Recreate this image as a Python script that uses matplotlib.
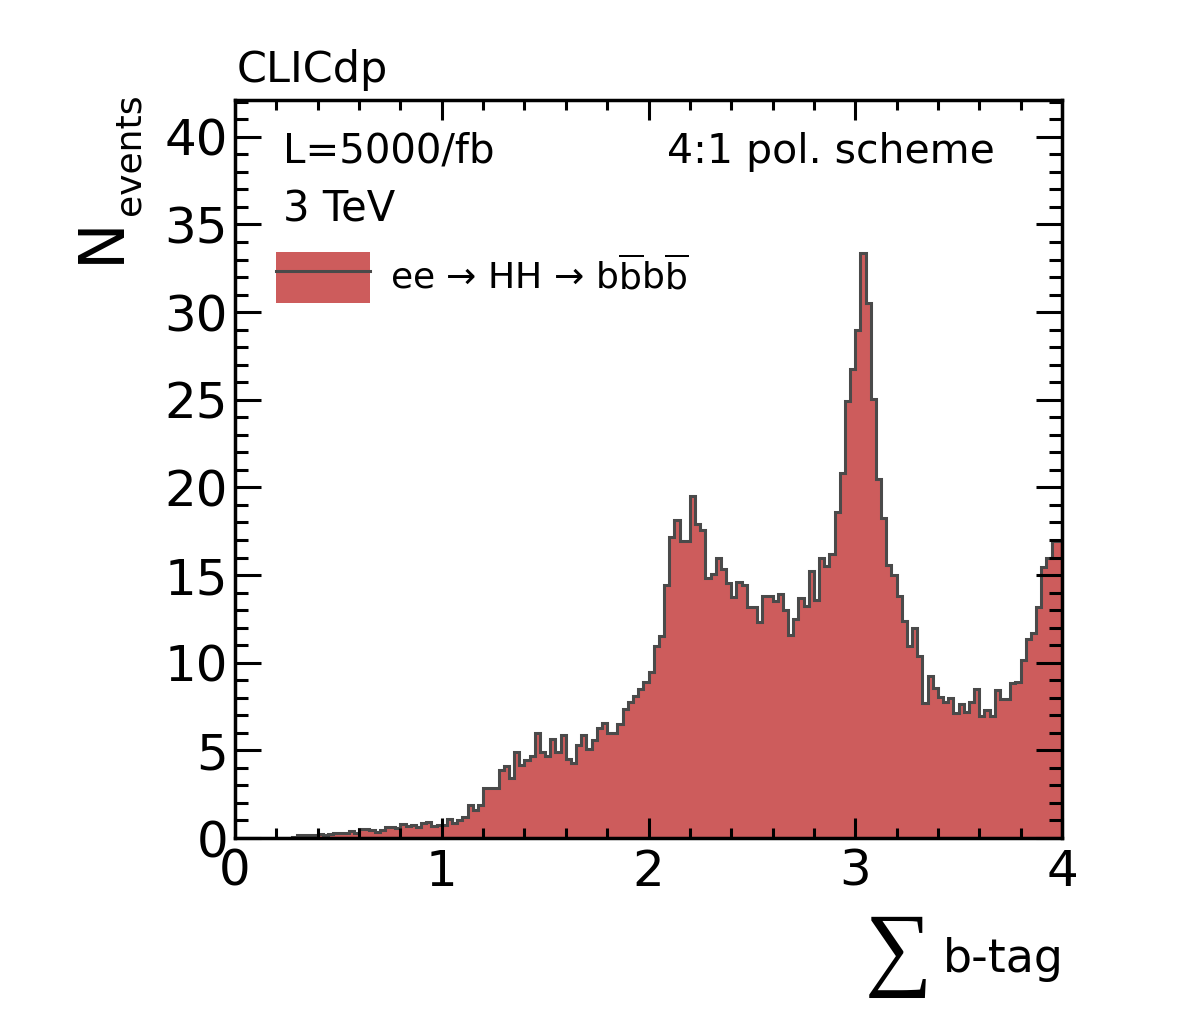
import numpy as np
import matplotlib
matplotlib.use("Agg")
import matplotlib.pyplot as plt
from matplotlib.patches import Patch
from matplotlib.lines import Line2D
from matplotlib.ticker import MultipleLocator

# histogram of the summed b-tag, 160 bins between 0 and 4
x_min = 0.0
x_max = 4.0
counts = [
    0, 0, 0, 0, 0, 0, 0, 0, 0, 0,
    0, 0.08, 0.15, 0.17, 0.15, 0.15, 0.2, 0.17, 0.2, 0.3,
    0.3, 0.28, 0.4, 0.3, 0.5, 0.5, 0.45, 0.35, 0.45, 0.6,
    0.6, 0.55, 0.8, 0.7, 0.75, 0.6, 0.85, 0.9, 0.7, 0.75,
    0.75, 1.07, 0.87, 1.0, 1.2, 1.88, 1.6, 1.88, 2.83, 2.83,
    2.83, 3.88, 4.1, 3.4, 4.9, 4.16, 4.45, 4.68, 6.0, 4.9,
    4.65, 5.65, 4.9, 5.9, 4.5, 4.26, 5.3, 5.88, 5.06, 5.6,
    6.26, 6.58, 6.0, 6.0, 6.5, 7.34, 7.78, 8.1, 8.48, 8.92,
    9.49, 10.95, 11.52, 14.43, 17.15, 18.14, 16.96, 16.96, 19.5, 17.9,
    17.57, 14.81, 15.06, 16.0, 15.33, 14.57, 13.77, 14.62, 14.43, 13.16,
    13.16, 12.3, 13.8, 13.8, 13.5, 13.9, 13.0, 11.6, 12.5, 13.7,
    13.25, 15.25, 13.6, 15.95, 15.5, 16.2, 18.6, 20.85, 24.95, 26.74,
    28.98, 33.39, 30.53, 25.02, 20.46, 18.27, 15.57, 15.0, 13.8, 12.4,
    10.95, 12.0, 10.38, 7.72, 9.24, 8.54, 8.06, 7.78, 7.97, 7.11,
    7.64, 7.2, 7.78, 8.48, 6.96, 7.3, 6.96, 8.44, 7.91, 7.91,
    8.82, 8.92, 10.15, 11.33, 11.68, 13.16, 15.48, 16.0, 16.96, 16.96,
]
x_ticks = [0, 1, 2, 3, 4]
legend_label = r'ee → HH → b$\overline{\mathrm{b}}$b$\overline{\mathrm{b}}$'

W, H = 1182, 1011
FILL = '#cd5c5c'
EDGE = '#4a4a4a'


def fx(px):
    return px / W


def fy(py):
    return 1 - py / H


def main():
    fig = plt.figure(figsize=(W / 100, H / 100), dpi=100)
    ax = fig.add_axes([fx(235), fy(838), (1062 - 235) / W, (838 - 100) / H])

    edges = np.linspace(x_min, x_max, len(counts) + 1)
    ax.stairs(counts, edges, fill=True, color=FILL, lw=0)
    ax.stairs(counts, edges, color=EDGE, lw=2.2)

    ax.set_xlim(x_min, x_max)
    ax.set_ylim(0, 42.1)
    ax.set_xticks(x_ticks)
    ax.xaxis.set_minor_locator(MultipleLocator(0.2))
    ax.yaxis.set_major_locator(MultipleLocator(5))
    ax.yaxis.set_minor_locator(MultipleLocator(1))

    ax.tick_params(axis='x', which='major', direction='in', top=True, length=14.4, width=2.2, pad=7, labelsize=36)
    ax.tick_params(axis='x', which='minor', direction='in', top=True, length=7.2, width=2.2)
    ax.tick_params(axis='y', which='major', direction='in', right=True, length=18.7, width=2.2, pad=5, labelsize=36)
    ax.tick_params(axis='y', which='minor', direction='in', right=True, length=9.4, width=2.2)
    for s in ax.spines.values():
        s.set_linewidth(2.5)

    # legend: ROOT style filled box with line through it
    handle = (Patch(facecolor=FILL, edgecolor='none'), Line2D([], [], color=EDGE, lw=2.2))
    ax.legend([handle], [legend_label], loc='upper left',
              bbox_to_anchor=((276 - 235) / 827, (838 - 252) / 738),
              frameon=False, fontsize=26, handlelength=2.6, handleheight=1.8, handletextpad=0.55,
              borderpad=0, borderaxespad=0)

    # labels and annotations
    fig.text(fx(237), fy(82), 'CLICdp', fontsize=31, va='baseline')
    fig.text(fx(283), fy(163), 'L=5000/fb', fontsize=29, va='baseline')
    fig.text(fx(995), fy(163), '4:1 pol. scheme', fontsize=29.5, va='baseline', ha='right')
    fig.text(fx(283), fy(222), '3 TeV', fontsize=30, va='baseline')

    fig.text(fx(119), fy(263), 'N', fontsize=45, rotation=90, rotation_mode='anchor', ha='left', va='baseline')
    fig.text(fx(140), fy(215), 'events', fontsize=26, rotation=90, rotation_mode='anchor', ha='left', va='baseline')

    fig.text(fx(1064), fy(972), 'b-tag', fontsize=33, ha='right', va='baseline')
    fig.text(fx(898), fy(956), '\u2211', fontsize=68, ha='center', va='center',
             family=['Liberation Serif', 'DejaVu Serif'])

    fig.savefig('out.png', dpi=100)


if __name__ == '__main__':
    main()
